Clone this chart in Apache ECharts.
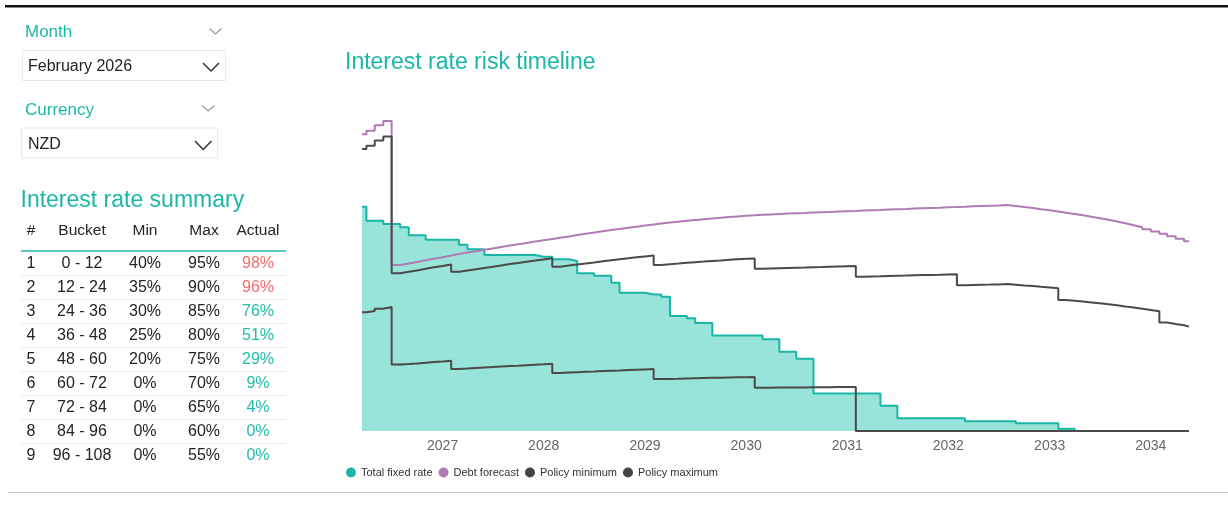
<!DOCTYPE html>
<html>
<head>
<meta charset="utf-8">
<script src="https://cdn.jsdelivr.net/npm/echarts@6/dist/echarts.min.js"></script>
<style>
  html, body { margin: 0; padding: 0; background: #ffffff; }
  #main { width: 1228px; height: 519px; }
</style>
</head>
<body>
<div id="main"></div>
<script>
// ---- Timeline: first (part) month, monthly steps, end of horizon ----
const startDate = '2026-03-16';
const firstMonth = [2026, 4];      // first whole month of the timeline
const monthCount = 98;             // Apr 2026 .. May 2034
const endDate = '2034-05-19';

const yearLabels = ['2027', '2028', '2029', '2030', '2031', '2032', '2033', '2034'];

// ---- Series values (NZD m), one per period ----
const totalFixedRate = [
  224.3,
  210.2, 210.2, 207.0, 207.0, 203.7, 195.8, 195.8, 191.3, 191.3, 191.3,
  191.3, 186.3, 181.8, 181.8, 176.0, 176.0, 176.0, 176.0, 176.0, 176.0, 174.3, 174.3,
  171.7, 171.7, 170.0, 157.7, 157.7, 155.3, 155.3, 148.3, 138.3, 138.3, 138.3, 136.5,
  136.5, 134.3, 115.0, 115.0, 112.7, 108.0, 108.0, 95.5, 95.5, 95.5, 95.5, 95.5,
  95.5, 91.7, 91.7, 79.3, 79.3, 72.2, 72.2, 37.4, 37.4, 37.4, 37.4, 37.4,
  37.4, 37.4, 37.4, 25.2, 25.2, 12.7, 12.7, 12.7, 12.7, 12.7, 12.7, 12.7,
  12.7, 9.8, 9.8, 9.8, 9.8, 9.8, 9.8, 7.7, 7.7, 7.7, 7.7, 7.7,
  2.2, 2.2, 0, 0, 0, 0, 0, 0, 0, 0, 0, 0,
  0, 0, 0, 0
];

const debtForecast = [
  296.7, 300.3, 305.7, 310.0,
  166.0, 167.6, 169.1, 170.7, 172.3, 173.8, 175.4,
  177.0, 178.4, 179.8, 181.2, 182.6, 184.0, 185.4, 186.7, 188.1, 189.4, 190.7, 192.0,
  193.3, 194.6, 195.9, 197.2, 198.4, 199.7, 200.9, 202.1, 203.2, 204.3, 205.4, 206.4,
  207.4, 208.4, 209.3, 210.2, 211.0, 211.8, 212.6, 213.3, 214.0, 214.6, 215.2, 215.7,
  216.2, 216.6, 217.0, 217.4, 217.7, 218.0, 218.4, 218.7, 219.0, 219.4, 219.7, 220.0,
  220.4, 220.7, 221.0, 221.4, 221.7, 222.0, 222.4, 222.7, 223.0, 223.3, 223.7, 224.0,
  224.3, 224.7, 225.0, 225.3, 225.6, 226.0, 225.0, 224.0, 222.9, 221.8, 220.7, 219.5,
  218.3, 217.1, 215.8, 214.3, 212.8, 211.2, 209.5, 207.7, 205.8, 203.8, 201.7, 199.5,
  197.2, 194.8, 192.3, 189.8
];

const policyMinimum = [
  118.7, 120.1, 122.3, 124.0,
  66.4, 67.0, 67.6, 68.3, 68.9, 69.5, 70.2,
  62.0, 62.4, 62.9, 63.4, 63.9, 64.4, 64.9, 65.3, 65.8, 66.3, 66.7, 67.2,
  58.0, 58.4, 58.8, 59.2, 59.5, 59.9, 60.3, 60.6, 61.0, 61.3, 61.6, 61.9,
  51.9, 52.1, 52.3, 52.6, 52.8, 53.0, 53.2, 53.3, 53.5, 53.7, 53.8, 53.9,
  43.2, 43.3, 43.4, 43.5, 43.5, 43.6, 43.7, 43.7, 43.8, 43.9, 43.9, 44.0,
  0, 0, 0, 0, 0, 0, 0, 0, 0, 0,
  0, 0, 0, 0, 0, 0, 0, 0, 0, 0,
  0, 0, 0, 0, 0, 0, 0, 0, 0, 0,
  0, 0, 0, 0, 0, 0, 0, 0, 0, 0
];

const policyMaximum = [
  281.9, 285.3, 290.4, 294.5,
  157.7, 159.2, 160.6, 162.2, 163.7, 165.1, 166.6,
  159.3, 160.6, 161.8, 163.1, 164.3, 165.6, 166.9, 168.0, 169.3, 170.5, 171.6, 172.8,
  164.3, 165.4, 166.5, 167.6, 168.6, 169.7, 170.8, 171.8, 172.7, 173.7, 174.6, 175.4,
  165.9, 166.7, 167.4, 168.2, 168.8, 169.4, 170.1, 170.6, 171.2, 171.7, 172.2, 172.6,
  162.2, 162.5, 162.8, 163.1, 163.3, 163.5, 163.8, 164.0, 164.3, 164.6, 164.8, 165.0,
  154.3, 154.5, 154.7, 155.0, 155.2, 155.4, 155.7, 155.9, 156.1, 156.3, 156.6, 156.8,
  145.8, 146.1, 146.3, 146.4, 146.6, 146.9, 146.3, 145.6, 144.9, 144.2, 143.5, 142.7,
  131.0, 130.3, 129.5, 128.6, 127.7, 126.7, 125.7, 124.6, 123.5, 122.3, 121.0, 119.7,
  108.5, 107.1, 105.8, 104.4
];

// ---- Interest rate summary table ----
const tableHeaders = ['#', 'Bucket', 'Min', 'Max', 'Actual'];
const bucketNames = ['0 - 12', '12 - 24', '24 - 36', '36 - 48', '48 - 60', '60 - 72', '72 - 84', '84 - 96', '96 - 108'];
const bucketMin = [40, 35, 30, 25, 20, 0, 0, 0, 0];
const bucketMax = [95, 90, 85, 80, 75, 70, 65, 60, 55];
const bucketActual = [98, 96, 76, 51, 29, 9, 4, 0, 0];

// ---- Slicers ----
const monthSelection = 'February 2026';
const currencySelection = 'NZD';

// ---- Period dates as timestamps ----
function ts(str) {
  const p = str.split('-').map(Number);
  return new Date(p[0], p[1] - 1, p[2]).getTime();
}
const dates = [ts(startDate)];
for (let k = 0; k < monthCount; k++) {
  const idx = firstMonth[1] - 1 + k;
  dates.push(new Date(firstMonth[0] + Math.floor(idx / 12), idx % 12, 1).getTime());
}
function steps(values) {
  const out = values.map((v, i) => [dates[i], v]);
  out.push([ts(endDate), values[values.length - 1]]);
  return out;
}

const TEAL = '#1cb8a7';
const TEXT = '#252423';
const FONT = '"Liberation Sans", Arial, sans-serif';

// ---- Left panel drawn as graphic elements ----
const g = [];
function text(x, y, s, size, color, align) {
  g.push({
    type: 'text', x: x, y: y, silent: true,
    style: { text: s, fill: color, font: size + 'px ' + FONT, align: align || 'left', verticalAlign: 'middle' }
  });
}
function chevron(x1, y1, x2, y2, color, w) {
  g.push({
    type: 'polyline', silent: true,
    shape: { points: [[x1, y1], [(x1 + x2) / 2, y2], [x2, y1]] },
    style: { stroke: color, lineWidth: w, fill: null }
  });
}
function hline(x1, x2, y, color, w) {
  g.push({ type: 'line', silent: true, shape: { x1: x1, y1: y, x2: x2, y2: y }, style: { stroke: color, lineWidth: w } });
}
function box(x, y, w, h) {
  g.push({ type: 'rect', silent: true, shape: { x: x, y: y, width: w, height: h }, style: { fill: '#fff', stroke: '#e8e8e8', lineWidth: 1 } });
}

// page frame lines
g.push({ type: 'rect', silent: true, shape: { x: 5, y: 5, width: 1223, height: 2.4 }, style: { fill: '#111' } });
hline(8, 1228, 492.5, '#c8c8c8', 1);

// slicers
text(25, 32.5, 'Month', 17, TEAL);
chevron(209.5, 28.5, 221.5, 34, '#9a9a9a', 1.2);
box(22.5, 50.5, 203, 30);
text(28, 66.5, monthSelection, 16, TEXT);
chevron(203, 63, 219, 71, '#333', 1.5);

text(25, 110.5, 'Currency', 17, TEAL);
chevron(202, 105.5, 214.5, 111, '#9a9a9a', 1.2);
box(21.5, 128, 196, 30);
text(28, 144.5, currencySelection, 16, TEXT);
chevron(195, 141, 211.5, 149.5, '#333', 1.5);

// summary table
text(20.5, 201, 'Interest rate summary', 23, TEAL);
const colX = [31, 82, 145, 204, 258];
tableHeaders.forEach((h, i) => text(colX[i], 231, h, 15.5, TEXT, 'center'));
hline(21, 286, 251, TEAL, 1.6);
bucketNames.forEach((b, r) => {
  const y = 264 + r * 24;
  text(colX[0], y, String(r + 1), 16, TEXT, 'center');
  text(colX[1], y, b, 16, TEXT, 'center');
  text(colX[2], y, bucketMin[r] + '%', 16, TEXT, 'center');
  text(colX[3], y, bucketMax[r] + '%', 16, TEXT, 'center');
  const over = bucketActual[r] > bucketMax[r];
  text(colX[4], y, bucketActual[r] + '%', 16, over ? '#f66b6b' : '#22bcab', 'center');
  if (r < bucketNames.length - 1) hline(21, 286, y + 11.5, '#ececec', 1);
});

// ---- Chart ----
const chart = echarts.init(document.getElementById('main'));
chart.setOption({
  animation: false,
  backgroundColor: '#ffffff',
  title: {
    text: 'Interest rate risk timeline',
    left: 340, top: 46,
    textStyle: { color: TEAL, fontSize: 23, fontWeight: 'normal', fontFamily: FONT }
  },
  legend: {
    left: 341, top: 462,
    icon: 'circle', itemWidth: 10, itemHeight: 10, itemGap: 6,
    textStyle: { fontSize: 11, color: '#333', fontFamily: FONT },
    data: ['Total fixed rate', 'Debt forecast', 'Policy minimum', 'Policy maximum']
  },
  grid: { left: 362, right: 39, top: 91, bottom: 88, containLabel: false },
  xAxis: {
    type: 'value',
    min: ts(startDate), max: ts(endDate),
    axisLine: { show: false },
    axisTick: { show: false },
    splitLine: { show: false },
    axisLabel: {
      customValues: yearLabels.map(y => new Date(+y, 0, 1).getTime()),
      formatter: v => String(new Date(v).getFullYear()),
      color: '#666666', fontSize: 14, fontFamily: FONT, margin: 8
    }
  },
  yAxis: {
    type: 'value', min: 0, max: 340, show: false,
    splitLine: { show: false }
  },
  series: [
    {
      name: 'Total fixed rate', type: 'line', step: 'end', symbol: 'none',
      data: steps(totalFixedRate),
      itemStyle: { color: '#1ab5a5' },
      lineStyle: { color: '#1ab5a5', width: 2 },
      areaStyle: { color: '#98e3da', opacity: 1 },
      z: 2
    },
    {
      name: 'Debt forecast', type: 'line', step: 'end', symbol: 'none',
      data: steps(debtForecast),
      itemStyle: { color: '#b07ab3' },
      lineStyle: { color: '#b07ab3', width: 2 },
      z: 3
    },
    {
      name: 'Policy minimum', type: 'line', step: 'end', symbol: 'none',
      data: steps(policyMinimum),
      itemStyle: { color: '#444444' },
      lineStyle: { color: '#4a4a4a', width: 2 },
      z: 4
    },
    {
      name: 'Policy maximum', type: 'line', step: 'end', symbol: 'none',
      data: steps(policyMaximum),
      itemStyle: { color: '#444444' },
      lineStyle: { color: '#4a4a4a', width: 2 },
      z: 4
    }
  ],
  graphic: { elements: g }
});
</script>
</body>
</html>
